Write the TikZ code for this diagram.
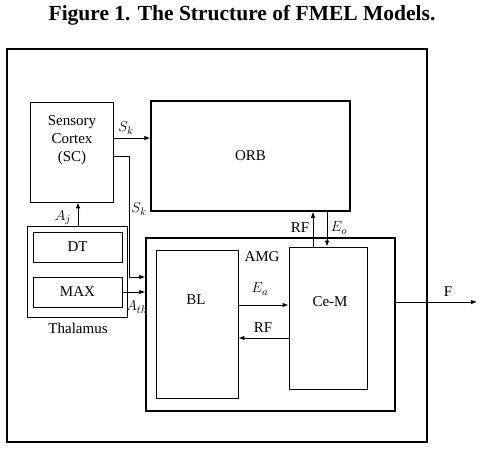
\documentclass[tikz,border=0pt]{standalone}
\usepackage{fontspec}
\setmainfont{Liberation Serif}
\usetikzlibrary{arrows.meta}
\begin{document}
\begin{tikzpicture}[x=1pt,y=-1pt]
  \tikzstyle{block}=[draw,line width=0.8pt,inner sep=0pt,font=\fontsize{15}{18}\selectfont]
  \tikzstyle{bold block}=[block,line width=1.5pt]
  \tikzstyle{label text}=[font=\fontsize{15}{18}\selectfont,inner sep=1pt]
  \tikzstyle{signal}=[-{Latex[length=6pt,width=4.5pt]},line width=0.9pt]

  \useasboundingbox (0,0) rectangle (484,453);

  % Titel
  \node[font=\bfseries\fontsize{21.5}{24}\selectfont] (title) at (242,15) {Figure 1. The Structure of FMEL Models.};

  % Rahmen
  \node[block,line width=1.2pt,minimum width=420pt,minimum height=393pt] (frame) at (217,245.5) {};

  % Sensory Cortex und ORB
  \node[block,minimum width=83pt,minimum height=100pt] (sc) at (71.5,152) {};
  \node[label text,align=center] (sctext) at (72,140) {Sensory\\Cortex\\(SC)};
  \node[bold block,minimum width=199pt,minimum height=110pt] (orb) at (250.5,156) {ORB};

  % Thalamus
  \node[block,minimum width=100pt,minimum height=91pt] (thal) at (77,271.5) {};
  \node[block,minimum width=89pt,minimum height=30pt] (dt) at (77.5,247) {DT};
  \node[block,minimum width=89pt,minimum height=30pt] (max) at (77.5,292) {MAX};
  \node[label text] (thaltext) at (78,328) {Thalamus};

  % AMG mit BL und Ce-M
  \node[bold block,minimum width=249pt,minimum height=173pt] (amg) at (270.5,324.5) {};
  \node[label text] (amgtext) at (262,257) {AMG};
  \node[block,minimum width=82pt,minimum height=148pt] (bl) at (197,324) {};
  \node[label text] (bltext) at (196,300) {BL};
  \node[block,minimum width=78pt,minimum height=142pt] (cem) at (328,318) {};
  \node[label text] (cemtext) at (330,302) {Ce-M};

  % Hilfspunkte
  \coordinate (sk1) at (0,138);
  \coordinate (sk2) at (0,156);
  \coordinate (turn) at (129,277);
  \coordinate (ea) at (0,305);
  \coordinate (rf) at (0,338);
  \coordinate (up) at (313,0);
  \coordinate (down) at (327,0);
  \coordinate (fout) at (477,302);

  % Signale
  \draw[signal] (sc.east |- sk1) -- (orb.west |- sk1);
  \node[label text] (sklabel) at (126,128) {$S_k$};
  \draw[signal] (sc.east |- sk2) -| (turn) -- (amg.west |- turn);
  \node[label text] (sklabelb) at (139,209) {$S_k$};
  \draw[signal] (thal.north -| 78,0) -- (sc.south -| 78,0);
  \node[label text] (ajlabel) at (63,218) {$A_j$};
  \draw[signal] (max.east) -- (amg.west |- max.east);
  \node[label text] (athlabel) at (137,307) {$A_{th}$};
  \draw[signal] (bl.east |- ea) -- (cem.west |- ea);
  \node[label text] (ealabel) at (260,289) {$E_a$};
  \draw[signal] (cem.west |- rf) -- (bl.east |- rf);
  \node[label text] (rflabel) at (263,328) {RF};
  \draw[signal] (cem.north -| up) -- (orb.south -| up);
  \node[label text] (rflabelb) at (300,228) {RF};
  \draw[signal] (orb.south -| down) -- (cem.north -| down);
  \node[label text] (eolabel) at (339,228) {$E_o$};
  \draw[signal] (amg.east |- fout) -- (fout);
  \node[label text] (flabel) at (448,292) {F};

\end{tikzpicture}
\end{document}
